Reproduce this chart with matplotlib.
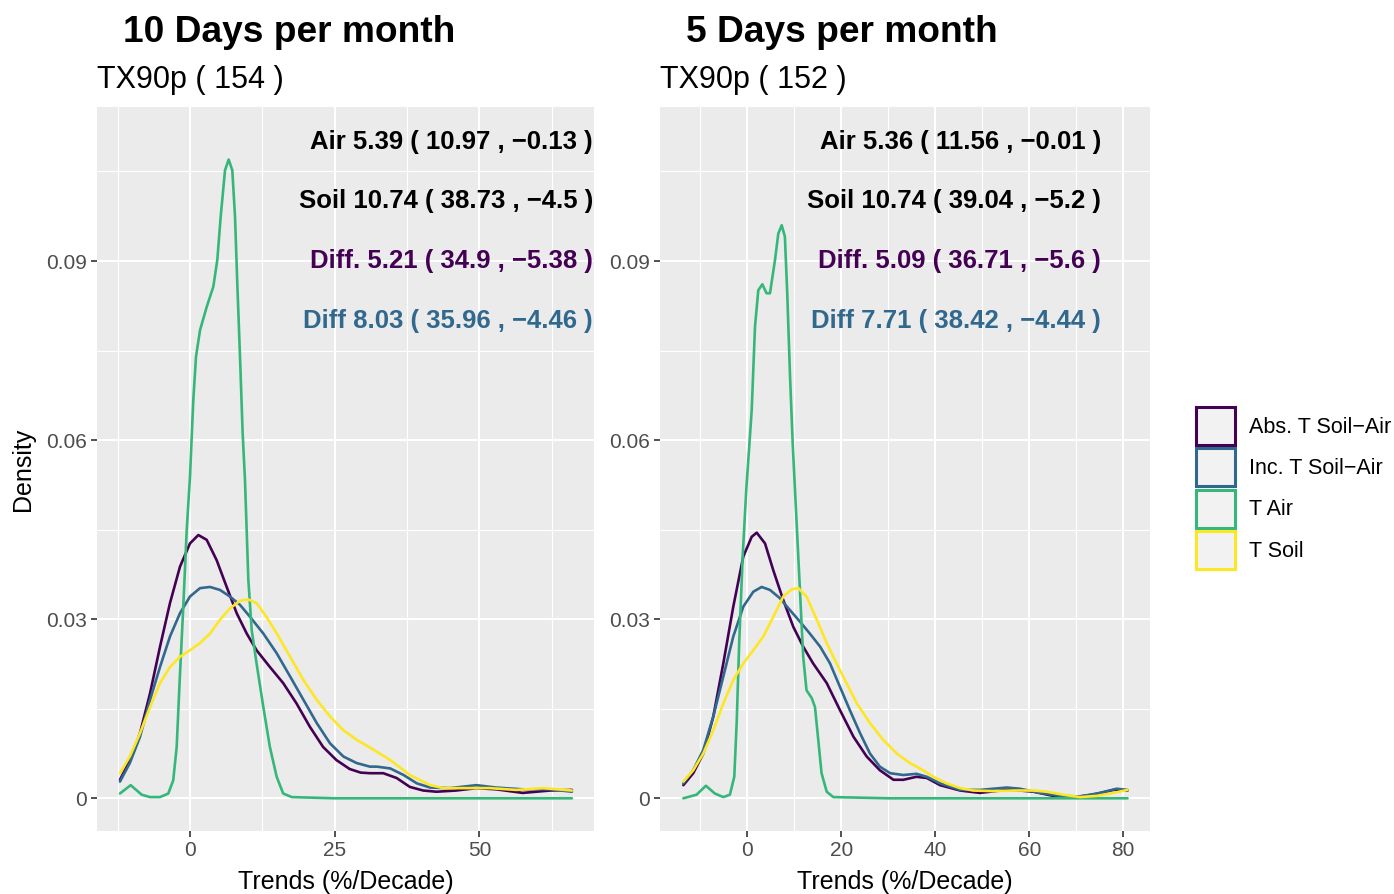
import matplotlib
matplotlib.use('Agg')
import matplotlib.pyplot as plt
from matplotlib.patches import Patch
from matplotlib.ticker import FixedLocator

plt.rcParams['font.family'] = ['Liberation Sans', 'DejaVu Sans']

# ---------------- data ----------------
series_names = ['Abs. T Soil\u2212Air', 'Inc. T Soil\u2212Air', 'T Air', 'T Soil']
series_colors = ['#440154', '#31688E', '#35B779', '#FDE725']

panel_titles = ['10 Days per month', '5 Days per month']
panel_subtitles = ['TX90p ( 154 )', 'TX90p ( 152 )']

ann_10 = ['Air 5.39 ( 10.97 , \u22120.13 )', 'Soil 10.74 ( 38.73 , \u22124.5 )',
          'Diff. 5.21 ( 34.9 , \u22125.38 )', 'Diff 8.03 ( 35.96 , \u22124.46 )']
ann_5 = ['Air 5.36 ( 11.56 , \u22120.01 )', 'Soil 10.74 ( 39.04 , \u22125.2 )',
         'Diff. 5.09 ( 36.71 , \u22125.6 )', 'Diff 7.71 ( 38.42 , \u22124.44 )']
ann_colors = ['black', 'black', '#440154', '#31688E']
ann_y = [0.11, 0.10, 0.09, 0.08]

# ---- 10 days per month ----
d10_abs_x = [-12.1, -10.37, -8.64, -6.9, -5.18, -3.46, -1.73, 0, 1.44, 2.88, 4.6, 6.34, 8.07, 9.8, 11.5,
             13.8, 16.1, 18.4, 20.7, 23.0, 25.3, 27.6, 29.5, 31.1, 33.4, 35.7, 38.0, 40.3, 42.6, 46.0,
             49.5, 52.9, 57.5, 62.2, 66.0]
d10_abs_y = [0.0031, 0.0064, 0.0109, 0.0176, 0.0254, 0.0327, 0.0388, 0.0427, 0.0441, 0.0433, 0.0399,
             0.0354, 0.0310, 0.0276, 0.0248, 0.0220, 0.0193, 0.0159, 0.0120, 0.0086, 0.0064, 0.0049,
             0.0043, 0.0042, 0.0042, 0.0034, 0.0019, 0.0013, 0.0011, 0.0013, 0.0017, 0.0015, 0.0009,
             0.0013, 0.0014]

d10_inc_x = [-12.1, -10.4, -8.64, -6.9, -5.18, -3.46, -1.73, 0, 1.73, 3.46, 5.18, 6.9, 8.64, 10.37,
             12.67, 14.98, 17.3, 19.6, 21.9, 24.2, 26.5, 28.8, 31.1, 32.3, 34.6, 36.9, 39.2, 41.5, 44.9,
             49.5, 52.9, 57.5, 62.2, 66.0]
d10_inc_y = [0.0028, 0.0059, 0.0103, 0.0165, 0.0220, 0.0271, 0.0310, 0.0338, 0.0352, 0.0354, 0.0349,
             0.0338, 0.0324, 0.0304, 0.0276, 0.0243, 0.0204, 0.0165, 0.0126, 0.0092, 0.0070, 0.0059,
             0.0053, 0.0053, 0.0050, 0.0039, 0.0025, 0.0018, 0.0017, 0.0022, 0.0018, 0.0015, 0.0015,
             0.0011]

d10_air_x = [-12.1, -10.25, -8.35, -6.9, -5.2, -3.75, -2.9, -2.3, -1.78, -1.16, -0.57, 0, 0.57, 1.04,
             1.73, 2.88, 4.03, 4.72, 5.3, 6.05, 6.68, 7.31, 7.78, 8.17, 8.64, 9.1, 9.5, 10.08, 10.66,
             11.5, 12.67, 13.8, 14.98, 16.1, 17.6, 25.0, 40.0, 55.0, 66.0]
d10_air_y = [0.0008, 0.0022, 0.0006, 0.0002, 0.0002, 0.0008, 0.0030, 0.0086, 0.0198, 0.0321, 0.0449,
             0.0539, 0.0667, 0.0740, 0.0784, 0.0823, 0.0857, 0.0902, 0.0974, 0.1052, 0.1070, 0.1052,
             0.0974, 0.0863, 0.0740, 0.0611, 0.0533, 0.0366, 0.0282, 0.0226, 0.0153, 0.0086, 0.0036,
             0.0008, 0.0002, 0.0, 0.0, 0.0, 0.0]

d10_soil_x = [-12.1, -10.4, -8.64, -6.9, -5.18, -3.46, -1.73, 0, 1.73, 3.46, 5.18, 6.9, 8.64, 10.1,
              11.5, 13.2, 15.0, 17.3, 19.6, 21.9, 24.2, 26.5, 28.8, 31.1, 34.6, 38.0, 41.5, 43.8, 47.2,
              51.8, 56.4, 61.0, 66.0]
d10_soil_y = [0.0042, 0.0070, 0.0109, 0.0153, 0.0193, 0.0220, 0.0237, 0.0248, 0.0260, 0.0276, 0.0299,
              0.0318, 0.0331, 0.0333, 0.0327, 0.0304, 0.0276, 0.0237, 0.0198, 0.0165, 0.0137, 0.0114,
              0.0098, 0.0085, 0.0064, 0.0039, 0.0022, 0.0017, 0.0017, 0.0017, 0.0014, 0.0017, 0.0013]

# ---- 5 days per month ----
d5_abs_x = [-13.6, -11.5, -9.36, -7.23, -5.1, -2.98, -0.85, 0.94, 2.0, 3.77, 5.53, 7.66, 9.8, 11.9,
            14.0, 16.9, 19.7, 22.6, 25.4, 28.2, 31.1, 33.2, 36.0, 38.2, 41.0, 45.3, 49.5, 53.8, 56.6,
            60.9, 65.1, 69.4, 73.6, 77.9, 80.9]
d5_abs_y = [0.0022, 0.0042, 0.0075, 0.0137, 0.0226, 0.0321, 0.0405, 0.0438, 0.0445, 0.0427, 0.0382,
            0.0332, 0.0287, 0.0254, 0.0226, 0.0193, 0.0148, 0.0103, 0.0070, 0.0047, 0.0031, 0.0031,
            0.0036, 0.0034, 0.0022, 0.0013, 0.0009, 0.0013, 0.0014, 0.0011, 0.0004, 0.0002, 0.0006,
            0.0014, 0.0013]

d5_inc_x = [-13.6, -11.5, -9.36, -7.23, -5.1, -2.98, -0.85, 1.28, 3.05, 4.83, 6.96, 9.1, 11.2, 13.3,
            15.5, 17.6, 19.7, 21.8, 24.0, 26.1, 28.2, 30.4, 33.2, 36.0, 38.2, 41.0, 45.3, 49.5, 52.3,
            55.2, 58.0, 62.3, 66.5, 70.8, 75.0, 78.6, 80.9]
d5_inc_y = [0.0025, 0.0047, 0.0081, 0.0137, 0.0204, 0.0271, 0.0321, 0.0346, 0.0354, 0.0349, 0.0335,
            0.0315, 0.0296, 0.0276, 0.0254, 0.0226, 0.0187, 0.0148, 0.0109, 0.0075, 0.0053, 0.0042,
            0.0039, 0.0041, 0.0036, 0.0025, 0.0014, 0.0014, 0.0016, 0.0018, 0.0016, 0.0009, 0.0004,
            0.0003, 0.0009, 0.0016, 0.0014]

d5_air_x = [-13.6, -10.8, -8.8, -6.9, -5.1, -3.7, -2.77, -2.26, -1.7, -0.98, -0.2, 0.94, 1.64,
            2.34, 3.2, 4.1, 4.83, 5.9, 6.6, 7.32, 8.0, 8.5, 9.1, 9.66, 10.15, 10.5, 11.2, 11.9, 12.6,
            13.7, 14.4, 15.1, 15.8, 16.9, 18.3, 30.0, 50.0, 70.0, 80.9]
d5_air_y = [0.0, 0.0006, 0.0021, 0.0008, 0.0002, 0.0006, 0.0036, 0.0126, 0.0265, 0.0405, 0.0519,
            0.0650, 0.0790, 0.0851, 0.0861, 0.0846, 0.0846, 0.0902, 0.0946, 0.0960, 0.0941,
            0.0846, 0.0706, 0.0595, 0.0516, 0.0461, 0.0349, 0.0237, 0.0181, 0.0168, 0.0153, 0.0098,
            0.0042, 0.0011, 0.0002, 0.0, 0.0, 0.0, 0.0]

d5_soil_x = [-13.6, -11.5, -9.36, -7.23, -5.1, -2.98, -0.85, 1.28, 3.4, 5.53, 7.66, 9.44, 10.85, 12.6,
             14.8, 16.9, 19.0, 21.1, 23.3, 26.1, 28.9, 31.8, 34.6, 37.4, 39.6, 42.4, 45.3, 48.1, 52.3,
             56.6, 60.9, 63.7, 67.2, 70.8, 74.3, 77.9, 80.9]
d5_soil_y = [0.0028, 0.0047, 0.0075, 0.0114, 0.0159, 0.0198, 0.0226, 0.0248, 0.0271, 0.0304, 0.0338,
             0.0350, 0.0352, 0.0338, 0.0299, 0.0260, 0.0226, 0.0193, 0.0159, 0.0126, 0.0098, 0.0075,
             0.0059, 0.0047, 0.0036, 0.0025, 0.0017, 0.0013, 0.0012, 0.0013, 0.0013, 0.0011, 0.0006,
             0.0002, 0.0004, 0.0009, 0.0014]

panels = [
    dict(series=[(d10_abs_x, d10_abs_y), (d10_inc_x, d10_inc_y), (d10_air_x, d10_air_y), (d10_soil_x, d10_soil_y)],
         ann=ann_10, ann_x=69.6, xlim=(-16.07, 69.81), xmajor=[0, 25, 50], xminor=[-12.5, 12.5, 37.5, 62.5]),
    dict(series=[(d5_abs_x, d5_abs_y), (d5_inc_x, d5_inc_y), (d5_air_x, d5_air_y), (d5_soil_x, d5_soil_y)],
         ann=ann_5, ann_x=75.3, xlim=(-18.57, 85.68), xmajor=[0, 20, 40, 60, 80], xminor=[-10, 10, 30, 50, 70]),
]

yticks = [0, 0.03, 0.06, 0.09]
ytick_labels = ['0', '0.03', '0.06', '0.09']
yminor = [0.015, 0.045, 0.075, 0.105]

# ---------------- figure ----------------
W, H = 1394, 894
fig = plt.figure(figsize=(W / 100, H / 100), dpi=100)

axes_px = [(97, 107, 594, 831), (660, 107, 1150, 831)]
title_px = [123, 686]

for i, (p, (x0, y0, x1, y1)) in enumerate(zip(panels, axes_px)):
    ax = fig.add_axes([x0 / W, 1 - y1 / H, (x1 - x0) / W, (y1 - y0) / H])
    ax.set_facecolor('#EBEBEB')
    for s in ax.spines.values():
        s.set_visible(False)
    ax.set_xlim(*p['xlim'])
    ax.set_ylim(-0.00548, 0.1158)
    ax.xaxis.set_major_locator(FixedLocator(p['xmajor']))
    ax.xaxis.set_minor_locator(FixedLocator(p['xminor']))
    ax.yaxis.set_major_locator(FixedLocator(yticks))
    ax.yaxis.set_minor_locator(FixedLocator(yminor))
    ax.set_yticklabels(ytick_labels)
    ax.set_xticklabels([str(v) for v in p['xmajor']])
    ax.grid(which='major', color='white', linewidth=1.5)
    ax.grid(which='minor', color='white', linewidth=0.8)
    ax.set_axisbelow(True)
    ax.tick_params(which='major', length=4, width=1.2, color='#333333', labelcolor='#4D4D4D',
                   labelsize=15, pad=3)
    ax.tick_params(which='minor', length=0)
    for (xs, ys), c in zip(p['series'], series_colors):
        ax.plot(xs, ys, color=c, linewidth=1.9, solid_joinstyle='round', solid_capstyle='round')
    for txt, c, yy in zip(p['ann'], ann_colors, ann_y):
        ax.text(p['ann_x'], yy, txt, ha='right', va='center', fontsize=18.5, fontweight='bold', color=c)
    ax.set_xlabel('Trends (%/Decade)', fontsize=18, color='black', labelpad=7.5)
    if i == 0:
        ax.set_ylabel('Density', fontsize=18, color='black', labelpad=8)
    fig.text(title_px[i] / W, 1 - 42 / H, panel_titles[i], fontsize=26.7, fontweight='bold',
             ha='left', va='baseline')
    fig.text(x0 / W, 1 - 88 / H, panel_subtitles[i], fontsize=22, ha='left', va='baseline')

handles = [Patch(facecolor='#F2F2F2', edgecolor=c, linewidth=2.2) for c in series_colors]
fig.legend(handles, series_names, loc='center left', bbox_to_anchor=(1196 / W, 1 - 488 / H),
           frameon=False, fontsize=15.5, handlelength=1.82, handleheight=2.36, labelspacing=0.14,
           handletextpad=0.62, borderpad=0, borderaxespad=0)

fig.savefig('out.png', dpi=100)
